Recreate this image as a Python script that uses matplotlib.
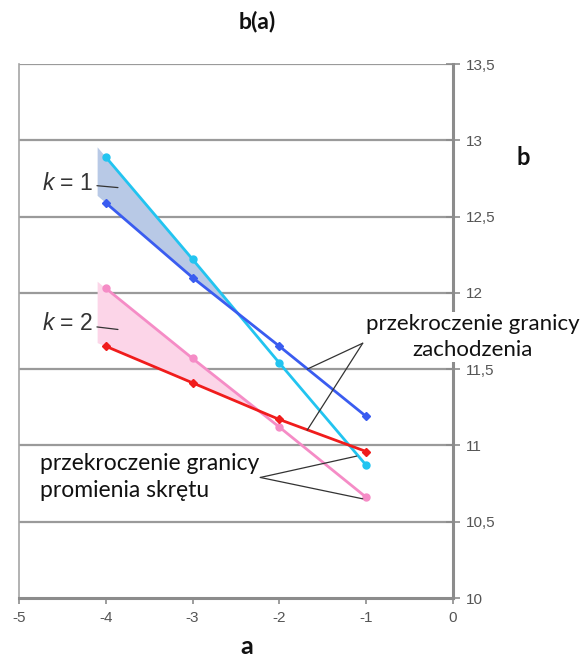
import numpy as np
import matplotlib
matplotlib.use("Agg")
from matplotlib import pyplot as plt

plt.rcParams['font.family'] = ['Liberation Sans', 'DejaVu Sans']
plt.rcParams['mathtext.fontset'] = 'custom'
plt.rcParams['mathtext.it'] = 'Liberation Sans:italic'
plt.rcParams['axes.unicode_minus'] = False

# values
a = [-4, -3, -2, -1]
b_k1_upper = [12.89, 12.22, 11.54, 10.87]   # cyan
b_k1_lower = [12.59, 12.10, 11.65, 11.19]   # blue
b_k2_upper = [12.03, 11.57, 11.12, 10.66]   # pink
b_k2_lower = [11.65, 11.41, 11.17, 10.96]   # red

x_ticks = [-5, -4, -3, -2, -1, 0]
y_ticks = [10, 10.5, 11, 11.5, 12, 12.5, 13, 13.5]
y_labels = ['10', '10,5', '11', '11,5', '12', '12,5', '13', '13,5']

c_cyan = '#22c4f0'
c_blue = '#3a5cf0'
c_pink = '#f58cc6'
c_red = '#f01c1c'


def shade(ax, y1, y2, color, x0=-4.1):
    # fill between the two lines from x0 up to where they cross
    p1 = np.polyfit(a[:2], y1[:2], 1)
    p2 = np.polyfit(a[:2], y2[:2], 1)
    xs = [x0] + list(a)
    ys1 = [np.polyval(p1, x0)] + list(y1)
    ys2 = [np.polyval(p2, x0)] + list(y2)
    d = np.array(ys1) - np.array(ys2)
    i = np.where(d < 0)[0][0]
    t = d[i - 1] / (d[i - 1] - d[i])
    xc = xs[i - 1] + t * (xs[i] - xs[i - 1])
    yc = ys1[i - 1] + t * (ys1[i] - ys1[i - 1])
    xf = xs[:i] + [xc]
    ax.fill_between(xf, ys1[:i] + [yc], ys2[:i] + [yc], color=color, lw=0, zorder=1)


fig = plt.figure(figsize=(5.87, 6.59), dpi=100)
ax = fig.add_axes([19 / 587, 61 / 659, 434 / 587, 534 / 659])

ax.set_xlim(-5, 0)
ax.set_ylim(10, 13.5)

for yv in y_ticks[1:]:
    ax.axhline(yv, color='#9a9a9a', lw=1.6, zorder=0)

shade(ax, b_k1_upper, b_k1_lower, '#b8c9e6')
shade(ax, b_k2_upper, b_k2_lower, '#fcd5e8')

ax.plot(a, b_k1_upper, color=c_cyan, lw=2, marker='o', ms=5, zorder=3)
ax.plot(a, b_k1_lower, color=c_blue, lw=2, marker='D', ms=4.5, zorder=3)
ax.plot(a, b_k2_upper, color=c_pink, lw=2, marker='o', ms=5, zorder=3)
ax.plot(a, b_k2_lower, color=c_red, lw=2, marker='D', ms=4.5, zorder=3)

ax.spines['top'].set_visible(False)
ax.spines['left'].set_color('#a6a6a6')
ax.spines['left'].set_linewidth(1.2)
ax.spines['right'].set_color('#8c8c8c')
ax.spines['right'].set_linewidth(2.2)
ax.spines['bottom'].set_color('#8c8c8c')
ax.spines['bottom'].set_linewidth(2.2)

ax.yaxis.tick_right()
ax.set_yticks(y_ticks)
ax.set_yticklabels(y_labels)
ax.set_xticks(x_ticks)
ax.tick_params(axis='y', direction='inout', length=10, width=1.2, color='#8c8c8c',
               labelsize=11, labelcolor='#555555', pad=4)
ax.tick_params(axis='x', direction='out', length=4, width=1.2, color='#8c8c8c',
               labelsize=11, labelcolor='#555555', pad=5)

# k labels
for lbl, yt, yl in [(r'$k$ = 1', 12.72, 12.69), (r'$k$ = 2', 11.80, 11.76)]:
    ax.annotate(lbl, xy=(-3.86, yl), xytext=(-4.15, yt), fontsize=16.5,
                ha='right', va='center', color='#333333',
                arrowprops=dict(arrowstyle='-', color='#333333', lw=0.9,
                                shrinkA=1, shrinkB=0))

# leader lines
for xy in [(-1.68, 11.50), (-1.68, 11.10)]:
    ax.annotate('', xy=xy, xytext=(-1.04, 11.67),
                arrowprops=dict(arrowstyle='-', color='#333333', lw=0.9, shrinkA=0, shrinkB=0))
for xy in [(-1.11, 10.93), (-1.04, 10.65)]:
    ax.annotate('', xy=xy, xytext=(-2.22, 10.79),
                arrowprops=dict(arrowstyle='-', color='#333333', lw=0.9, shrinkA=0, shrinkB=0))

fig.text(473 / 587, 1 - 337 / 659, 'przekroczenie granicy\nzachodzenia', fontsize=16,
         family='Lato', ha='center', va='center', multialignment='center',
         linespacing=1.4, color='#111111',
         bbox=dict(facecolor='white', edgecolor='none', pad=1))
fig.text(40 / 587, 1 - 477 / 659, 'przekroczenie granicy\npromienia skrętu', fontsize=16.5,
         family='Lato', ha='left', va='center', multialignment='left',
         linespacing=1.4, color='#111111')

fig.text(257 / 587, 1 - 22 / 659, 'b(a)', fontsize=16.5, fontweight='bold', family='Lato',
         ha='center', va='center', color='#111111')
fig.text(523 / 587, 1 - 158 / 659, 'b', fontsize=17, fontweight='bold', family='Lato',
         ha='center', va='center', color='#111111')
fig.text(247 / 587, 1 - 646 / 659, 'a', fontsize=18, fontweight='bold', family='Lato',
         ha='center', va='center', color='#111111')

fig.savefig('out.png', dpi=100)
